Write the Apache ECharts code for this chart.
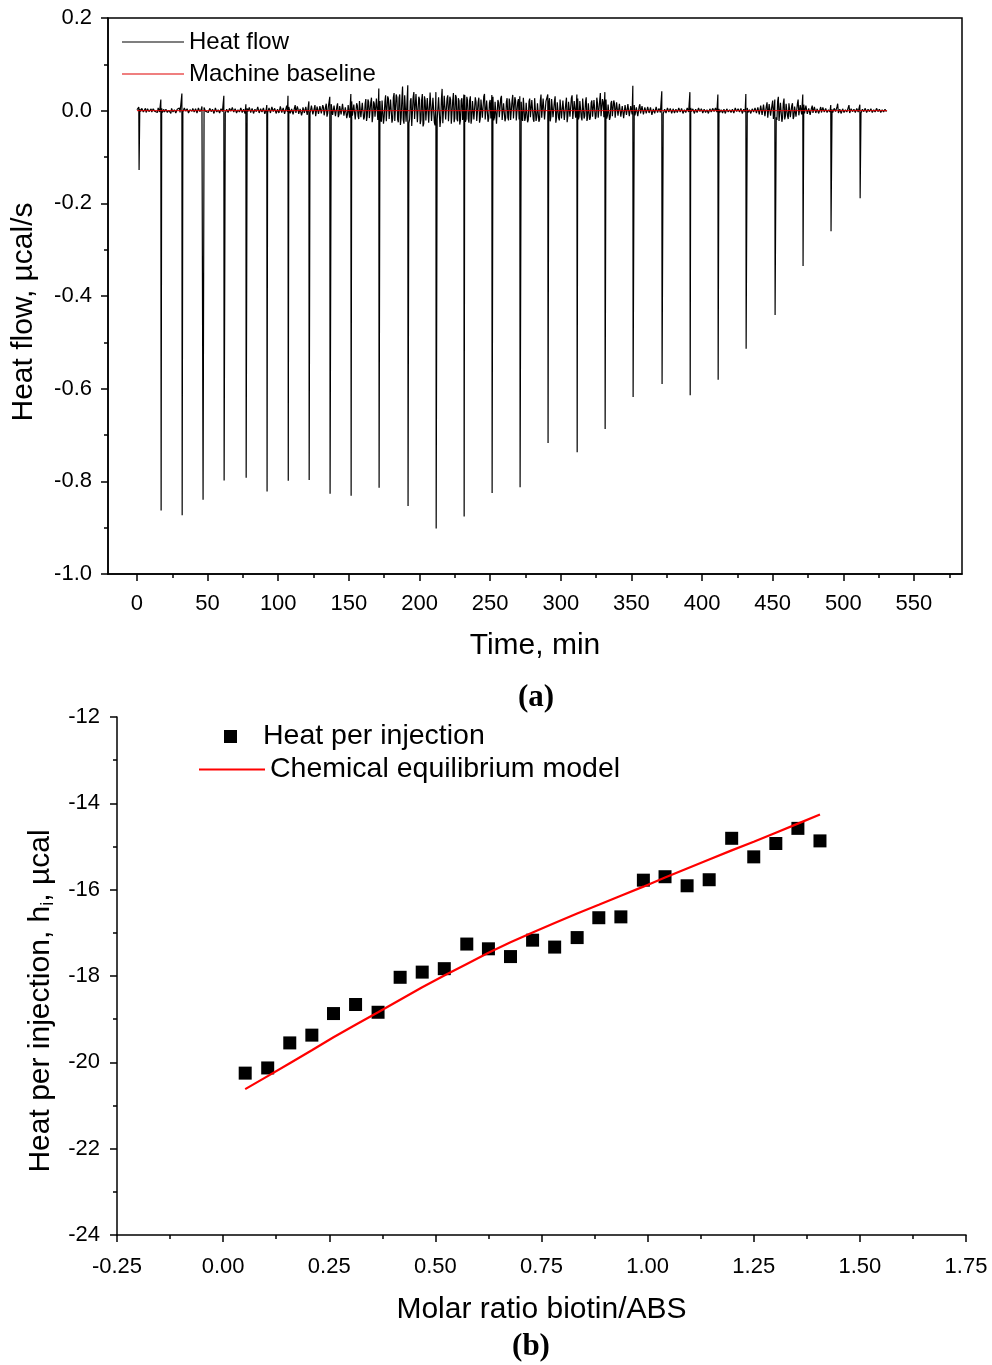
<!DOCTYPE html>
<html><head><meta charset="utf-8">
<script src="https://cdn.jsdelivr.net/npm/echarts@6/dist/echarts.min.js"></script>
<style>html,body{margin:0;padding:0;background:#fff}#c{width:992px;height:1365px}</style>
</head><body><div id="c"></div>
<script>
// ---------- DATA ----------
// (a) ITC thermogram
const timeTicks = [0,50,100,150,200,250,300,350,400,450,500,550];
const timeMinorTicks = [25,75,125,175,225,275,325,375,425,475,525,575];
const injectionTimes = [1.4,17,31.9,46.7,61.6,77.2,92,107,121.8,136.6,151.5,171.3,191.8,211.7,231.5,251.3,271.1,290.9,311.5,331.3,351.1,371.6,391.5,411.3,431.1,451.6,471.4,491.2,511.8];
const injectionPeaks = [-0.128,-0.863,-0.873,-0.840,-0.798,-0.792,-0.822,-0.799,-0.797,-0.827,-0.831,-0.814,-0.853,-0.902,-0.876,-0.825,-0.813,-0.717,-0.737,-0.687,-0.618,-0.590,-0.614,-0.581,-0.514,-0.441,-0.335,-0.260,-0.189];
const injectionOvershoots = [0.008,0.024,0.037,0.012,0.032,0.014,0.012,0.032,0.020,0.030,0.036,0.048,0.055,0.040,0.035,0.034,0.031,0.035,0.035,0.040,0.054,0.042,0.040,0.035,0.036,0.024,0.035,0.012,0.013];
// baseline noise in 0.001 µcal/s: samples at whole minutes (from t = 0) ...
const noiseStartMin = 0;
const noiseStepMin = 1;
const baselineNoiseMilli = [
 2,-3,4,-1,3,-4,5,-2,1,-3,
 4,-2,3,-5,2,6,-3,1,-4,3,
 -2,5,-3,2,-6,4,-1,3,-4,2,
 6,-3,4,-5,2,-2,7,-4,3,-1,
 5,-6,2,-3,4,-2,9,-5,3,-4,
 2,-3,6,-5,4,-1,8,-6,3,-2,
 5,-4,7,-3,2,-6,4,-2,9,-5,
 3,-4,6,-2,8,-7,4,-3,5,-6,
 7,-3,2,-5,6,-4,10,-6,3,-2,
 6,-5,4,-8,7,-3,5,-6,9,-4,
 3,-7,8,-5,6,-3,11,-6,4,-8,
 7,-5,12,-6,4,-9,8,-4,10,-7,
 6,-8,14,-5,9,-7,12,-10,6,-4,
 11,-8,7,-12,15,-6,9,-10,13,-7,
 8,-11,16,-9,12,-6,18,-13,10,-8,
 14,-12,20,-9,16,-15,11,-18,22,-10,
 17,-14,25,-12,19,-20,28,-11,15,-17,
 30,-16,21,-24,18,-13,33,-19,26,-22,
 24,-18,38,-21,29,-25,35,-15,52,-28,
 31,-23,45,-19,27,-30,40,-22,34,-26,
 25,-20,36,-28,22,-17,30,-24,41,-19,
 28,-32,35,-21,26,-18,47,-25,30,-22,
 33,-19,24,-27,38,-16,29,-23,21,-20,
 27,-24,34,-18,22,-26,31,-15,25,-21,
 19,-22,28,-17,24,-14,36,-20,18,-16,
 23,-19,30,-15,21,-24,17,-13,32,-18,
 20,-16,27,-21,15,-18,34,-14,22,-19,
 25,-17,19,-22,31,-15,18,-20,26,-13,
 21,-24,29,-14,17,-19,35,-16,23,-18,
 16,-20,27,-13,22,-17,31,-15,19,-21,
 24,-14,18,-19,28,-12,21,-16,33,-15,
 20,-18,26,-13,17,-21,23,-11,29,-16,
 18,-14,22,-17,25,-12,16,-19,38,-13,
 19,-15,24,-11,17,-14,21,-10,15,-16,
 14,-9,18,-12,11,-15,16,-8,13,-11,
 10,-7,12,-9,8,-10,14,-6,9,-8,
 7,-5,9,-6,4,-8,6,-3,8,-5,
 5,-6,7,-3,4,-5,6,-4,3,-6,
 6,-3,5,-4,2,-6,7,-2,4,-5,
 3,-4,6,-2,5,-3,4,-5,7,-2,
 4,-3,5,-6,3,-2,6,-4,2,-3,
 5,-2,4,-3,6,-5,3,-2,4,-4,
 2,-5,4,-3,6,-2,3,-4,5,-3,
 4,-2,6,-5,3,-4,8,-3,5,-6,
 9,-7,12,-10,15,-8,18,-12,10,-14,
 22,-16,48,-20,30,-25,19,-15,26,-12,
 14,-18,20,-10,16,-13,11,-9,24,-8,
 10,-7,13,-6,9,-8,7,-5,11,-4,
 6,-4,5,-3,8,-5,4,-2,6,-3,
 5,-4,3,-2,7,-3,15,-4,4,-2,
 3,-5,4,-2,12,-3,5,-4,2,-3,
 4,-2,3,-5,2,-3,5,-2,3,-4,
 2,-3,4,-2,3,-4,2,-3,4,-2,
 3,-2
];
// ... and samples at half minutes (from t = 0.5)
const noiseHalfStartMin = 0.5;
const baselineNoiseHalfMilli = [
 -1,3,-2,5,-3,1,-4,4,-2,2,
 -3,4,-1,2,-4,3,-2,5,-1,-3,
 3,-4,1,-2,5,-3,2,-5,3,-1,
 -4,2,-3,6,-1,4,-5,2,-2,5,
 -3,4,-5,6,-2,3,-4,7,-1,2,
 -4,5,-2,3,-6,6,-3,2,-5,4,
 -2,6,-5,3,-4,5,-1,7,-3,4,
 -5,2,-3,6,-4,3,-6,5,-2,7,
 -4,5,-6,3,-2,8,-5,4,-3,6,
 -7,3,-4,6,-5,8,-2,5,-6,3,
 -5,9,-4,6,-7,5,-3,8,-6,4,
 -8,6,-5,9,-7,4,-10,7,-5,8,
 -9,7,-6,11,-8,5,-12,9,-7,10,
 -6,12,-10,8,-13,9,-7,14,-9,11,
 -12,9,-14,10,-8,15,-11,7,-16,12,
 -15,18,-11,13,-19,16,-12,21,-14,17,
 -19,15,-22,24,-16,18,-25,20,-13,26,
 -20,27,-17,22,-28,19,-23,31,-18,24,
 -26,29,-22,35,-19,27,-31,24,-20,33,
 -24,38,-27,21,-33,29,-18,36,-25,30,
 -29,23,-34,31,-21,27,-26,39,-22,28,
 -25,33,-20,29,-35,24,-27,32,-19,26,
 -23,30,-28,21,-25,34,-18,27,-30,22,
 -20,26,-24,30,-17,23,-28,21,-19,29,
 -22,18,-26,24,-15,31,-19,22,-24,17,
 -17,25,-21,19,-28,23,-14,27,-20,16,
 -23,19,-15,26,-20,22,-17,29,-21,18,
 -19,24,-16,28,-22,17,-25,20,-14,23,
 -18,27,-22,16,-24,21,-15,26,-19,20,
 -21,17,-23,25,-14,20,-26,18,-16,24,
 -17,22,-20,15,-25,19,-13,27,-18,21,
 -15,24,-19,21,-14,26,-17,19,-22,16,
 -20,17,-13,23,-18,28,-15,20,-12,25,
 -14,19,-17,13,-20,16,-12,22,-15,18,
 -11,15,-13,10,-16,12,-9,14,-12,10,
 -8,11,-10,7,-12,9,-6,10,-8,7,
 -6,8,-5,7,-9,4,-6,8,-4,5,
 -4,6,-7,3,-5,6,-3,5,-6,4,
 -5,3,-4,6,-3,5,-6,2,-4,6,
 -3,5,-2,4,-6,3,-4,6,-2,4,
 -5,3,-4,2,-6,4,-3,5,-2,6,
 -3,5,-4,2,-5,3,-6,4,-3,2,
 -4,3,-5,6,-2,4,-3,5,-6,3,
 -3,5,-4,2,-6,4,-3,6,-5,7,
 -8,11,-9,13,-12,10,-15,14,-11,12,
 -18,25,-14,20,-22,17,-24,16,-19,15,
 -12,16,-14,11,-18,9,-13,15,-10,12,
 -8,9,-6,11,-7,5,-9,6,-5,8,
 -5,4,-6,3,-4,7,-3,5,-4,2,
 -3,6,-4,5,-2,8,-5,3,-6,4,
 -4,2,-3,7,-5,4,-2,3,-4,5,
 -3,4,-5,3,-2,5,-4,3,-2,4,
 -4,2,-3,5,-2,3,-4,2,-3,3,
 -2
];
const machineBaselineTime = [0, 531];
const machineBaselineValue = [0, 0];

// (b) integrated heats
const molarRatio = [0.052,0.105,0.157,0.209,0.260,0.312,0.365,0.417,0.469,0.521,0.574,0.625,0.677,0.729,0.781,0.834,0.885,0.937,0.990,1.041,1.093,1.145,1.198,1.250,1.302,1.354,1.406];
const heatPerInjection = [-20.25,-20.13,-19.55,-19.37,-18.87,-18.66,-18.84,-18.03,-17.91,-17.83,-17.26,-17.37,-17.55,-17.17,-17.33,-17.11,-16.65,-16.63,-15.78,-15.70,-15.91,-15.77,-14.81,-15.24,-14.93,-14.58,-14.87];
const modelHeat = [-20.62,-20.32,-20.02,-19.72,-19.42,-19.13,-18.84,-18.55,-18.26,-17.99,-17.72,-17.46,-17.22,-16.99,-16.77,-16.55,-16.35,-16.14,-15.93,-15.72,-15.51,-15.30,-15.09,-14.89,-14.68,-14.47,-14.26];

// ---------- BUILD ----------
const heatFlowData = [];
const nearInjection = t => injectionTimes.some(ti => Math.abs(t - ti) < 0.45);
baselineNoiseMilli.forEach((m, i) => {
  const t = noiseStartMin + i * noiseStepMin;
  if (!nearInjection(t)) heatFlowData.push([t, m / 1000]);
});
baselineNoiseHalfMilli.forEach((m, i) => {
  const t = noiseHalfStartMin + i * noiseStepMin;
  if (!nearInjection(t)) heatFlowData.push([t, m / 1000]);
});
injectionTimes.forEach((ti, i) => {
  heatFlowData.push([ti - 0.1, injectionOvershoots[i]]);
  heatFlowData.push([ti + 0.1, injectionPeaks[i]]);
});
heatFlowData.sort((a, b) => a[0] - b[0]);
const machineData = machineBaselineTime.map((t, i) => [t, machineBaselineValue[i]]);
const scatterData = molarRatio.map((x, i) => [x, heatPerInjection[i]]);
const modelData = molarRatio.map((x, i) => [x, modelHeat[i]]);

const FONT = 'Liberation Sans, Arial, sans-serif';
const black = '#000';
const axisLineStyle = { color: black, width: 1.5 };
const tickStyle = { color: black, width: 1.5 };
const labelStyle = { color: black, fontSize: 22, fontFamily: FONT };
const nameStyle = { color: black, fontSize: 30, fontFamily: FONT };

const chart = echarts.init(document.getElementById('c'), null, { renderer: 'canvas' });
chart.setOption({
  animation: false,
  backgroundColor: '#fff',
  grid: [
    { left: 108, top: 18, width: 854, height: 556, show: true, borderColor: black, borderWidth: 1.5, backgroundColor: 'transparent', containLabel: false, outerBoundsMode: 'none' },
    { left: 117, top: 717, width: 849, height: 518, show: false, containLabel: false, outerBoundsMode: 'none' }
  ],
  xAxis: [
    { gridIndex: 0, type: 'value', min: -20.5, max: 584, position: 'bottom',
      axisLine: { show: true, onZero: false, lineStyle: axisLineStyle },
      axisTick: { show: true, inside: false, length: 7, customValues: timeTicks, lineStyle: tickStyle },
      axisLabel: Object.assign({ show: true, customValues: timeTicks, margin: 19 }, labelStyle),
      splitLine: { show: false },
      name: 'Time, min', nameLocation: 'middle', nameGap: 57, nameTextStyle: nameStyle },
    { gridIndex: 0, type: 'value', min: -20.5, max: 584, position: 'bottom',
      axisLine: { show: false, onZero: false },
      axisTick: { show: true, inside: false, length: 4, customValues: timeMinorTicks, lineStyle: tickStyle },
      axisLabel: { show: false }, splitLine: { show: false } },
    { gridIndex: 1, type: 'value', min: -0.25, max: 1.75, interval: 0.25, position: 'bottom',
      axisLine: { show: true, onZero: false, lineStyle: axisLineStyle },
      axisTick: { show: true, inside: false, length: 7, lineStyle: tickStyle },
      minorTick: { show: true, splitNumber: 2, length: 4, lineStyle: tickStyle },
      axisLabel: Object.assign({ show: true, margin: 21, formatter: v => v.toFixed(2) }, labelStyle),
      splitLine: { show: false }, minorSplitLine: { show: false },
      name: 'Molar ratio biotin/ABS', nameLocation: 'middle', nameGap: 60, nameTextStyle: nameStyle }
  ],
  yAxis: [
    { gridIndex: 0, type: 'value', min: -1, max: 0.2, interval: 0.2,
      axisLine: { show: true, onZero: false, lineStyle: axisLineStyle },
      axisTick: { show: true, inside: false, length: 7, lineStyle: tickStyle },
      minorTick: { show: true, splitNumber: 2, length: 4, lineStyle: tickStyle },
      axisLabel: Object.assign({ show: true, margin: 16, formatter: v => (Math.abs(v) < 1e-9 ? 0 : v).toFixed(1) }, labelStyle),
      splitLine: { show: false }, minorSplitLine: { show: false },
      name: 'Heat flow, µcal/s', nameLocation: 'middle', nameGap: 69,
      nameTextStyle: Object.assign({ padding: [0, 32, 0, 0] }, nameStyle) },
    { gridIndex: 1, type: 'value', min: -24, max: -12, interval: 2,
      axisLine: { show: true, onZero: false, lineStyle: axisLineStyle },
      axisTick: { show: true, inside: false, length: 7, lineStyle: tickStyle },
      minorTick: { show: true, splitNumber: 2, length: 4, lineStyle: tickStyle },
      axisLabel: Object.assign({ show: true, margin: 17 }, labelStyle),
      splitLine: { show: false }, minorSplitLine: { show: false },
      name: 'Heat per injection, h{sub|i}, µcal', nameLocation: 'middle', nameGap: 52,
      nameTextStyle: Object.assign({ padding: [0, 50, 0, 0], rich: { sub: { fontSize: 18, fontFamily: FONT, color: black, padding: [16, 0, 0, 0] } } }, nameStyle) }
  ],
  legend: [
    { orient: 'vertical', left: 122, top: 30, padding: 0, itemGap: 8, itemWidth: 62, itemHeight: 1,
      textStyle: { color: black, fontSize: 24, fontFamily: FONT },
      data: [{ name: 'Heat flow', icon: 'rect' }, { name: 'Machine baseline', icon: 'rect' }] },
    { orient: 'vertical', left: 224, top: 722, padding: 0, itemWidth: 13, itemHeight: 13,
      textStyle: { color: black, fontSize: 28.5, fontFamily: FONT, padding: [0, 0, 0, 21] },
      data: [{ name: 'Heat per injection', icon: 'rect' }] },
    { orient: 'vertical', left: 199, top: 755, padding: 0, itemWidth: 66, itemHeight: 2,
      textStyle: { color: black, fontSize: 28.5, fontFamily: FONT },
      data: [{ name: 'Chemical equilibrium model', icon: 'rect' }] }
  ],
  graphic: [
    { type: 'text', x: 536, y: 698, style: { text: '(a)', align: 'center', verticalAlign: 'middle', font: 'bold 31px "Liberation Serif", "Times New Roman", serif', fill: black } },
    { type: 'text', x: 531, y: 1347, style: { text: '(b)', align: 'center', verticalAlign: 'middle', font: 'bold 31px "Liberation Serif", "Times New Roman", serif', fill: black } }
  ],
  series: [
    { name: 'Heat flow', type: 'line', xAxisIndex: 0, yAxisIndex: 0, data: heatFlowData,
      showSymbol: false, symbol: 'none', sampling: undefined, lineStyle: { color: black, width: 1.2 }, itemStyle: { color: black }, z: 2 },
    { name: 'Machine baseline', type: 'line', xAxisIndex: 0, yAxisIndex: 0, data: machineData,
      showSymbol: false, symbol: 'none', lineStyle: { color: '#e00000', width: 1 }, itemStyle: { color: '#e00000' }, z: 3 },
    { name: 'Heat per injection', type: 'scatter', xAxisIndex: 2, yAxisIndex: 1, data: scatterData,
      symbol: 'rect', symbolSize: 13, itemStyle: { color: black, opacity: 1 }, z: 2 },
    { name: 'Chemical equilibrium model', type: 'line', xAxisIndex: 2, yAxisIndex: 1, data: modelData,
      showSymbol: false, symbol: 'none', smooth: false, lineStyle: { color: '#ff0000', width: 2.2 }, itemStyle: { color: '#ff0000' }, z: 3 }
  ]
});
</script>
</body></html>
